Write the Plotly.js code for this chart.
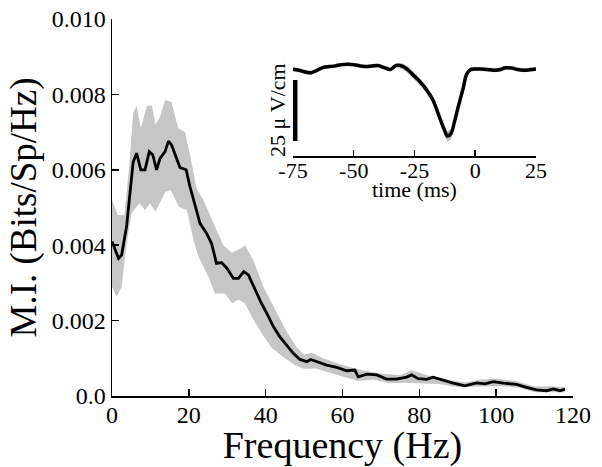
<!DOCTYPE html>
<html>
<head>
<meta charset="utf-8">
<script src="https://cdn.plot.ly/plotly-3.0.1.min.js"></script>
<style>html,body{margin:0;padding:0;background:#fff}#chart{width:602px;height:467px}</style>
</head>
<body>
<div id="chart"></div>
<script>
// Main spectrum: mutual information vs frequency
const meanFreq = [0.0,1.0,1.7,2.5,3.8,5.5,6.4,7.5,8.6,9.7,10.6,11.6,12.5,13.8,14.7,15.5,16.7,17.7,19.3,20.3,21.6,22.9,24.6,25.9,27.2,28.5,29.9,31.6,32.9,34.3,35.5,37.2,38.9,40.3,42.0,43.7,45.5,47.2,48.9,50.7,51.7,53.3,55.9,58.5,61.1,63.2,64.1,66.3,68.9,71.5,74.1,76.7,78.0,79.7,81.9,83.6,86.2,88.8,91.9,94.9,97.1,99.2,101.9,105.3,107.9,110.5,113.1,114.9,116.6,117.9];
const meanMI = [0.0041,0.0038,0.00365,0.00374,0.0045,0.0062,0.00644,0.0060,0.0060,0.00648,0.0064,0.0060,0.0063,0.00648,0.00676,0.00666,0.00635,0.00606,0.0060,0.00555,0.00507,0.00458,0.00432,0.00405,0.00352,0.00354,0.00339,0.00312,0.00312,0.0033,0.00321,0.00281,0.00246,0.00219,0.00184,0.00157,0.00135,0.00113,0.00097,0.00091,0.00097,0.00091,0.00082,0.00076,0.00067,0.00069,0.00051,0.00058,0.00056,0.00045,0.00045,0.0005,0.00056,0.00046,0.00044,0.0005,0.00041,0.00034,0.00027,0.00035,0.00032,0.00038,0.00034,0.00031,0.00023,0.00016,0.00014,0.00019,0.00014,0.00018];

const upperFreq = [0,1.5,3.2,4.5,5.5,6.4,7.5,9.1,10.4,11.3,12.5,13.8,15.5,17.2,19.0,20.3,22.0,23.8,25.9,27.7,29.0,31.2,33.3,34.6,36.8,39.4,42.0,45.5,48.0,50,52,55,60,65,70,75,78,82,88,92,96,100,105,110,114,117.9];
const upperMI = [0.0052,0.0048,0.0048,0.0061,0.0075,0.0077,0.0071,0.0077,0.0077,0.0072,0.0074,0.00785,0.0078,0.0071,0.0070,0.0064,0.0055,0.0052,0.0047,0.0043,0.0040,0.0038,0.0039,0.0040,0.0036,0.0029,0.0024,0.0017,0.0013,0.0011,0.00115,0.0010,0.00082,0.00068,0.0006,0.00055,0.00068,0.00055,0.00042,0.00036,0.00044,0.00046,0.0004,0.00025,0.00026,0.00024];

const lowerFreq = [0,1.2,2.5,3.8,5.1,7.2,8.6,9.9,11.3,13.9,15.3,17.4,19.5,21.2,22.5,25.1,26.8,29.4,31.2,32.9,34.6,36.4,39.0,41.6,45,48,50,53,56,60,64,68,72,76,80,85,90,94,98,102,106,110,114,117.9];
const lowerMI = [0.0029,0.00263,0.0029,0.00405,0.00485,0.00511,0.00493,0.00511,0.00489,0.00542,0.00546,0.00502,0.00493,0.00414,0.0037,0.00316,0.00272,0.00272,0.00246,0.00255,0.00246,0.0021,0.00166,0.00127,0.0010,0.0008,0.00072,0.00073,0.00066,0.00052,0.0004,0.00044,0.00034,0.00035,0.00034,0.00032,0.00024,0.00024,0.00026,0.00026,0.00022,0.0001,0.0001,0.0001];

const xTickVals = [0,20,40,60,80,100,120];
const xTickText = ["0","20","40","60","80","100","120"];
const yTickVals = [0,0.002,0.004,0.006,0.008,0.010];
const yTickText = ["0.0","0.002","0.004","0.006","0.008","0.010"];

// Inset: spike-triggered average LFP
const insetTime = [-75,-72.5,-70,-67.5,-65,-62.5,-60,-57.5,-55,-52.5,-50,-47.5,-45,-42.5,-40,-37.5,-35,-32.5,-30,-27.5,-25,-22.5,-20,-17.5,-15,-12.5,-11.5,-10,-8.5,-7,-5,-3.5,-2,0,2.5,5,7.5,10,12.5,15,17.5,20,22.5,25];
const insetMean = [-0.1,-0.5,-1.2,-1.5,-0.5,0.7,1.0,1.3,1.8,2.0,1.8,1.3,1.0,1.2,1.4,0.6,-0.2,1.5,1.2,-0.5,-3.0,-5.5,-8.6,-12.5,-19.0,-25.5,-27.5,-26.5,-21.5,-15.5,-8.0,-2.0,-0.3,0,0,-0.2,-0.5,-0.3,0.5,0.4,-0.2,-0.5,-0.3,0.0];
const insetUpper = [0.7,0.3,-0.4,-0.7,0.3,1.5,1.8,2.1,2.6,2.8,2.6,2.1,1.8,2.0,2.2,1.4,0.6,2.4,2.4,1.0,-1.5,-4.0,-7.2,-11.0,-17.5,-24.0,-25.5,-24.5,-19.8,-13.8,-6.5,-1.2,0.5,0.8,0.8,0.6,0.3,0.5,1.3,1.2,0.6,0.3,0.5,0.8];
const insetLower = [-0.9,-1.3,-2.0,-2.3,-1.3,-0.1,0.2,0.5,1.0,1.2,1.0,0.5,0.2,0.4,0.6,-0.2,-1.0,0.6,0.0,-2.0,-4.5,-7.0,-10.0,-14.0,-20.5,-27.5,-30.0,-29.0,-23.5,-17.0,-9.5,-3.0,-1.1,-0.8,-0.8,-1.0,-1.3,-1.1,-0.3,-0.4,-1.0,-1.3,-1.1,-0.8];
const insetTickVals = [-75,-50,-25,0,25];
const insetTickText = ["-75","-50","-25","0","25"];
const scaleBarTime = [-74.2,-74.2];
const scaleBarUV = [-4.5,-29.5];

const FONT = 'Liberation Serif';
const GREY = '#c6c6c6';

const bandX = upperFreq.concat(lowerFreq.slice().reverse());
const bandY = upperMI.concat(lowerMI.slice().reverse());
const iBandX = insetTime.concat(insetTime.slice().reverse());
const iBandY = insetUpper.concat(insetLower.slice().reverse());

const traces = [
  {x: bandX, y: bandY, type: 'scatter', mode: 'lines', fill: 'toself', fillcolor: GREY, line: {width: 0, color: GREY}, hoverinfo: 'skip', xaxis: 'x', yaxis: 'y'},
  {x: meanFreq, y: meanMI, type: 'scatter', mode: 'lines', line: {color: '#000', width: 2.8}, xaxis: 'x', yaxis: 'y'},
  {x: iBandX, y: iBandY, type: 'scatter', mode: 'lines', fill: 'toself', fillcolor: GREY, line: {width: 0, color: GREY}, hoverinfo: 'skip', xaxis: 'x2', yaxis: 'y2'},
  {x: insetTime, y: insetMean, type: 'scatter', mode: 'lines', line: {color: '#000', width: 3.5, shape: 'spline'}, xaxis: 'x2', yaxis: 'y2'},
  {x: scaleBarTime, y: scaleBarUV, type: 'scatter', mode: 'lines', line: {color: '#000', width: 5}, xaxis: 'x2', yaxis: 'y2', cliponaxis: false}
];

const layout = {
  width: 602, height: 467,
  margin: {l: 112, r: 29, t: 19, b: 71},
  paper_bgcolor: '#fff', plot_bgcolor: '#fff',
  showlegend: false,
  font: {family: FONT, color: '#000'},
  xaxis: {
    domain: [0, 1], range: [0, 120], tickvals: xTickVals, ticktext: xTickText,
    ticks: 'inside', ticklen: 7, tickwidth: 1.5, tickcolor: '#000',
    showline: true, linecolor: '#000', linewidth: 1.5, showgrid: false, zeroline: false,
    tickfont: {size: 24, family: FONT, color: '#000'}, automargin: false, ticklabelstandoff: -3,
    title: {text: 'Frequency (Hz)', font: {size: 38, family: FONT}, standoff: 0}
  },
  yaxis: {
    domain: [0, 1], range: [0, 0.010], tickvals: yTickVals, ticktext: yTickText,
    ticks: 'inside', ticklen: 7, tickwidth: 1.5, tickcolor: '#000',
    showline: true, linecolor: '#000', linewidth: 1.5, showgrid: false, zeroline: false,
    tickfont: {size: 24, family: FONT, color: '#000'}, automargin: false,
    title: {text: 'M.I. (Bits/Sp/Hz)', font: {size: 37, family: FONT}, standoff: 4}
  },
  xaxis2: {
    domain: [0.3926, 0.9197], anchor: 'y2', range: [-75, 25],
    tickvals: insetTickVals, ticktext: insetTickText,
    ticks: 'inside', ticklen: 6, tickwidth: 1.5, tickcolor: '#000',
    showline: true, linecolor: '#000', linewidth: 1.5, showgrid: false, zeroline: false,
    tickfont: {size: 22, family: FONT, color: '#000'}, automargin: false, ticklabelstandoff: -6
  },
  yaxis2: {
    domain: [0.6366, 0.930], anchor: 'x2', range: [-35.7, 9.7], visible: false
  },
  annotations: [
    {text: '25 μ V/cm', xref: 'paper', yref: 'paper', x: 0.358, y: 0.7586, textangle: -90,
     showarrow: false, font: {size: 22, family: FONT, color: '#000'}, xanchor: 'center', yanchor: 'middle'},
    {text: 'time (ms)', xref: 'paper', yref: 'paper', x: 0.656, y: 0.548,
     showarrow: false, font: {size: 22, family: FONT, color: '#000'}, xanchor: 'center', yanchor: 'middle'}
  ]
};

Plotly.newPlot('chart', traces, layout, {displayModeBar: false, staticPlot: true});
</script>
</body>
</html>
